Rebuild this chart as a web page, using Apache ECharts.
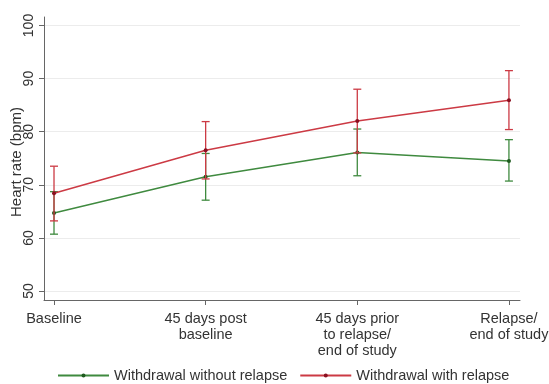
<!DOCTYPE html>
<html>
<head>
<meta charset="utf-8">
<script src="https://cdn.jsdelivr.net/npm/echarts@6/dist/echarts.min.js"></script>
<style>
html,body{margin:0;padding:0;background:#fff;}
#chart{width:549px;height:384px;}
</style>
</head>
<body>
<div id="chart"></div>
<script>
// ---- data ----
var categories = ['Baseline', '45 days post\nbaseline', '45 days prior\nto relapse/\nend of study', 'Relapse/\nend of study'];
var xPositions = [0, 1, 2, 3];
var yTicks = [50, 60, 70, 80, 90, 100];
var seriesNames = ['Withdrawal without relapse', 'Withdrawal with relapse'];
var withoutMean = [64.7, 71.5, 76.1, 74.5];
var withoutLow  = [60.7, 67.1, 71.7, 70.7];
var withoutHigh = [68.7, 75.9, 80.5, 78.5];
var withMean = [68.4, 76.5, 82.0, 85.9];
var withLow  = [63.2, 71.1, 76.0, 80.4];
var withHigh = [73.5, 81.9, 88.0, 91.5];

var GREEN = '#3f8a3f';
var RED = '#cc3a44';

function pts(mean) { return xPositions.map(function (x, i) { return [x, mean[i]]; }); }
function bars(low, high) { return xPositions.map(function (x, i) { return [x, low[i], high[i]]; }); }

function errorBar(color) {
  return function (params, api) {
    var x = api.value(0);
    var lo = api.coord([x, api.value(1)]);
    var hi = api.coord([x, api.value(2)]);
    var hw = 4;
    var st = { stroke: color, lineWidth: 1.3 };
    return {
      type: 'group',
      children: [
        { type: 'line', shape: { x1: lo[0], y1: lo[1], x2: hi[0], y2: hi[1] }, style: st },
        { type: 'line', shape: { x1: lo[0] - hw, y1: lo[1], x2: lo[0] + hw, y2: lo[1] }, style: st },
        { type: 'line', shape: { x1: hi[0] - hw, y1: hi[1], x2: hi[0] + hw, y2: hi[1] }, style: st }
      ]
    };
  };
}

var chart = echarts.init(document.getElementById('chart'), null, { renderer: 'canvas' });
chart.setOption({
  animation: false,
  backgroundColor: '#fff',
  textStyle: { fontFamily: 'Liberation Sans, Arial, sans-serif' },
  grid: { left: 44, right: 29, top: 17, bottom: 84, containLabel: false, outerBoundsMode: 'none' },
  legend: {
    data: seriesNames,
    left: 57,
    top: 368,
    padding: 0,
    itemWidth: 51,
    itemHeight: 5,
    itemGap: 12,
    textStyle: { fontSize: 14.5, color: '#333', padding: [0, 0, 0, 0] }
  },
  xAxis: {
    type: 'value',
    min: -0.066,
    max: 3.073,
    axisLine: { show: true, onZero: false, lineStyle: { color: '#666', width: 1 } },
    axisTick: { show: true, customValues: xPositions, length: 5, lineStyle: { color: '#666' } },
    axisLabel: {
      customValues: xPositions,
      formatter: function (v) { return categories[Math.round(v)]; },
      fontSize: 14.5,
      lineHeight: 16,
      color: '#333',
      margin: 11,
      align: 'center'
    },
    splitLine: { show: false }
  },
  yAxis: {
    type: 'value',
    min: 48.3,
    max: 101.6,
    name: 'Heart rate (bpm)',
    nameLocation: 'middle',
    nameGap: 20,
    nameMoveOverlap: false,
    nameRotate: 90,
    nameTextStyle: { fontSize: 15, color: '#333', padding: [0, 7, 0, 0] },
    axisLine: { show: true, onZero: false, lineStyle: { color: '#666', width: 1 } },
    axisTick: { show: true, customValues: yTicks, length: 5, lineStyle: { color: '#666' } },
    axisLabel: { customValues: yTicks, rotate: 90, fontSize: 14, color: '#333', margin: 8 },
    splitLine: { show: true, lineStyle: { color: '#ececec', width: 1 } }
  },
  series: [
    {
      name: seriesNames[0], type: 'line', data: pts(withoutMean), z: 3,
      symbol: 'circle', symbolSize: 4,
      lineStyle: { color: GREEN, width: 1.5 },
      itemStyle: { color: '#1e5a1e' }
    },
    {
      name: seriesNames[0] + ' CI', type: 'custom', data: bars(withoutLow, withoutHigh), z: 2,
      renderItem: errorBar(GREEN), encode: { x: 0, y: [1, 2] }
    },
    {
      name: seriesNames[1] + ' CI', type: 'custom', data: bars(withLow, withHigh), z: 4,
      renderItem: errorBar(RED), encode: { x: 0, y: [1, 2] }
    },
    {
      name: seriesNames[1], type: 'line', data: pts(withMean), z: 5,
      symbol: 'circle', symbolSize: 4,
      lineStyle: { color: RED, width: 1.5 },
      itemStyle: { color: '#8a1020' }
    }
  ]
});
</script>
</body>
</html>
